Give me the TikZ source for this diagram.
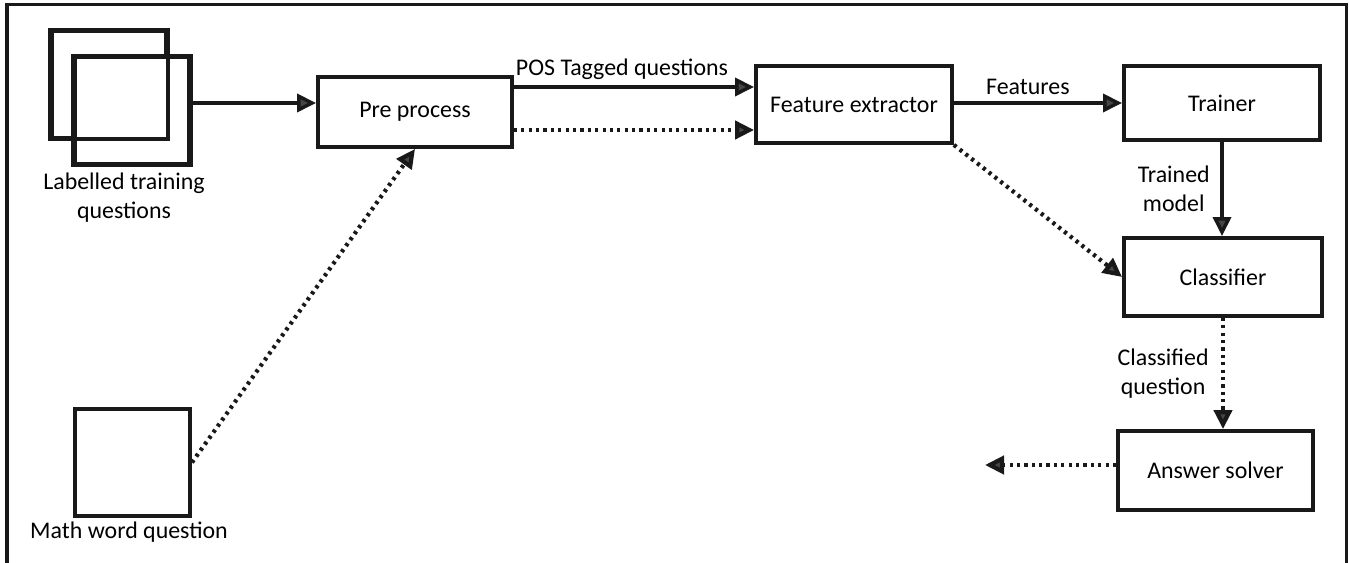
\documentclass[tikz,border=0pt]{standalone}
\usepackage{fontspec}
\setmainfont{Carlito}
\usepackage{xcolor}
\definecolor{inkgray}{RGB}{25, 25, 25}
\definecolor{tipgray}{RGB}{70, 70, 70}
\usetikzlibrary{arrows.meta, positioning, calc}

\begin{document}
\begin{tikzpicture}[
    font=\fontsize{13.6}{16.5}\selectfont,
    stage/.style={rectangle, draw=inkgray, line width=2.2pt, fill=white, align=center},
    doc/.style={rectangle, draw=inkgray, line width=2.2pt, minimum width=2.28cm, minimum height=2.12cm},
    arrow/.style={-{Triangle[length=0.38cm, width=0.36cm, fill=tipgray]}, draw=inkgray, line width=2pt},
    dotarrow/.style={arrow, line width=2.4pt, dash pattern=on 1.8pt off 2.4pt},
    caption/.style={align=center, inner sep=1pt}
]
    \useasboundingbox (0, 0) rectangle (26.98, 11.26);
    \draw[inkgray, line width=2pt] (0.14, 0) -- (0.14, 11.17) -- (26.93, 11.17) -- (26.93, 0);

    \node[doc] (back) at (2.18, 9.57) {};
    \node[doc, fill=white] (front) at (2.64, 9.05) {};
    \draw[inkgray, line width=2.2pt] (back.north west) rectangle (back.south east);
    \draw[inkgray, line width=2.2pt] (front.north west) rectangle (front.south east);
    \node[caption] (lbltrain) at (2.48, 7.30) {Labelled training\\questions};

    \node[doc, minimum width=2.30cm, minimum height=2.14cm] (mathq) at (2.65, 2.01) {};
    \node[caption] (lblmath) at (2.58, 0.62) {Math word question};

    \node[stage, minimum width=3.88cm, minimum height=1.40cm] (pre) at (8.30, 9.02) {Pre process};
    \node[stage, minimum width=3.92cm, minimum height=1.54cm] (fe) at (17.08, 9.17) {Feature extractor};
    \node[stage, minimum width=3.92cm, minimum height=1.48cm] (trainer) at (24.44, 9.20) {Trainer};
    \node[stage, minimum width=3.96cm, minimum height=1.56cm] (cls) at (24.46, 5.72) {Classifier};
    \node[stage, minimum width=3.90cm, minimum height=1.58cm] (ans) at (24.31, 1.85) {Answer solver};
    \coordinate (out) at (19.70, 1.96);

    \draw[arrow] (front.east |- 0, 9.20) -- (pre.west |- 0, 9.20);
    \draw[arrow] (pre.east |- 0, 9.52) -- node[caption, above=2pt, pos=0.45] (lblpos) {POS Tagged questions} (fe.west |- 0, 9.52);
    \draw[dotarrow] (pre.east |- 0, 8.66) -- (fe.west |- 0, 8.66);
    \draw[arrow] (fe.east |- trainer.west) -- node[caption, above=3pt, pos=0.44] (lblfeat) {Features} (trainer.west);
    \draw[arrow] (trainer.south) -- node[caption, left=5pt] (lbltm) {Trained\\model} (trainer.south |- cls.north);
    \draw[dotarrow] (fe.south east) -- (cls.west);
    \draw[dotarrow] (cls.south) -- node[caption, left=6pt] (lblcq) {Classified\\question} (cls.south |- ans.north);
    \draw[dotarrow] (ans.west |- out) -- (out);
    \draw[dotarrow] (mathq.east) -- (pre.south);
\end{tikzpicture}
\end{document}
